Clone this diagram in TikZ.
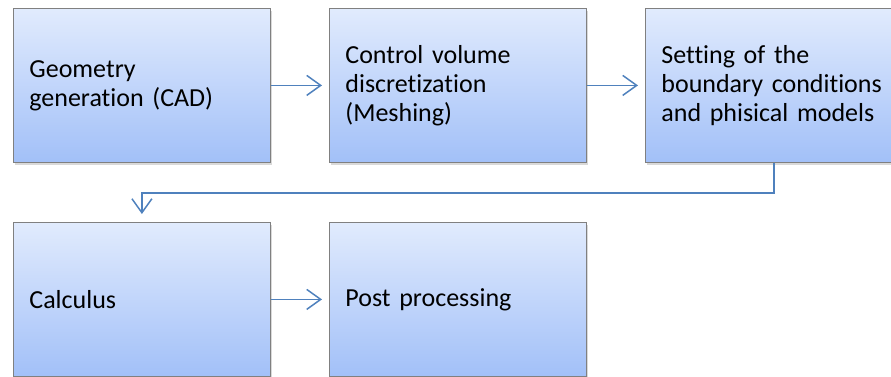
\documentclass[tikz,border=0pt]{standalone}
\usepackage{fontspec}
\setmainfont{Carlito}[Ligatures=NoCommon]
\usetikzlibrary{arrows.meta,shadows}
\definecolor{arr}{HTML}{4F81BD}
\definecolor{topc}{HTML}{E1EBFD}
\definecolor{botc}{HTML}{A2C0F8}
\tikzset{
  stepbox/.style={draw=black!50, line width=0.8pt, top color=topc, bottom color=botc,
    minimum width=257pt, minimum height=154pt, anchor=north west, align=left,
    text width=225pt, inner xsep=16pt, font=\fontsize{26}{29}\selectfont,
    drop shadow={shadow xshift=2pt, shadow yshift=-2.5pt, opacity=0.3}},
  flow/.style={draw=arr, line width=1.5pt, -{Straight Barb[length=14pt,width=20pt,line width=1.5pt]}}
}
\begin{document}
\begin{tikzpicture}[x=1pt,y=-1pt]
\useasboundingbox (0,0) rectangle (891,376);
\clip (0,0) rectangle (891,376);
\node[stepbox] (b1) at (13,8) {Geometry\\generation (CAD)};
\node[stepbox] (b2) at (329,8) {Control volume\\discretization\\(Meshing)};
\node[stepbox] (b3) at (645,8) {Setting of the\\boundary conditions\\and phisical models};
\node[stepbox] (b4) at (13,222) {Calculus};
\node[stepbox] (b5) at (329,222) {Post processing};
\draw[flow] (b1.east) -- ([xshift=-7pt]b2.west);
\draw[flow] (b2.east) -- ([xshift=-7pt]b3.west);
\draw[flow] (b3.south) -- ++(0,30) -| ([yshift=8pt]b4.north);
\draw[flow] (b4.east) -- ([xshift=-7pt]b5.west);
\end{tikzpicture}
\end{document}
